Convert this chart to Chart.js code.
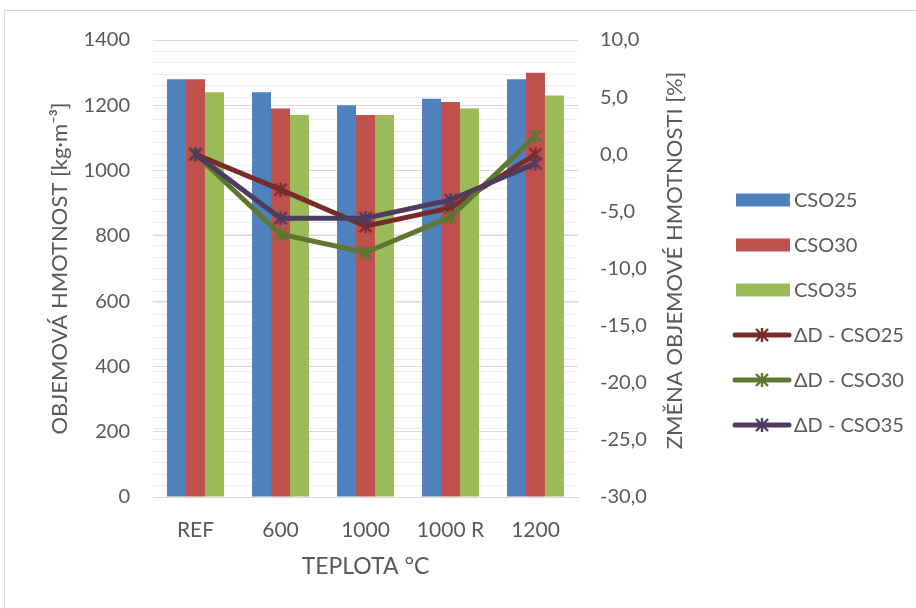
<!DOCTYPE html>
<html lang="cs">
<head>
<meta charset="utf-8">
<title>Objemová hmotnost</title>
<script src="https://cdn.jsdelivr.net/npm/chart.js@4.4.0/dist/chart.umd.min.js"></script>
<style>
  html, body { margin: 0; padding: 0; background: #fff; overflow: hidden; }
  #wrap { position: relative; width: 916px; height: 608px; }
  #frame { position: absolute; left: 4px; top: 10px; width: 1000px; height: 700px; border: 1px solid #d9d9d9; }
  #densityChart { position: absolute; left: 0; top: 0; }
</style>
</head>
<body>
<div id="wrap">
  <div id="frame"></div>
  <canvas id="densityChart" width="916" height="608"></canvas>
</div>
<script>
// categories (temperature) and bulk density per mix, kg/m3
const categories = ['REF', '600', '1000', '1000 R', '1200'];
const cso25 = [1280, 1240, 1200, 1220, 1280];
const cso30 = [1280, 1190, 1170, 1210, 1300];
const cso35 = [1240, 1170, 1170, 1190, 1230];

// change of bulk density against REF, %
const deltaCso25 = [0, -3.1, -6.3, -4.7, 0.0];
const deltaCso30 = [0, -7.0, -8.6, -5.5, 1.6];
const deltaCso35 = [0, -5.6, -5.6, -4.0, -0.8];

const leftTicks = { min: 0, max: 1400, step: 200 };
const rightTicks = { min: -30, max: 10, step: 5 };

const leftTitle = 'OBJEMOVÁ HMOTNOST [kg·m⁻³]';
const rightTitle = 'ZMĚNA OBJEMOVÉ HMOTNOSTI [%]';
const xTitle = 'TEPLOTA °C';

const fontFamily = 'Lato, "Open Sans", sans-serif';
const textColor = '#595959';

Chart.defaults.font.family = fontFamily;
Chart.defaults.color = textColor;

// excel-like star marker: an x with a vertical stroke
function starMarker(color) {
    const c = document.createElement('canvas');
    c.width = 16;
    c.height = 16;
    const g = c.getContext('2d');
    g.strokeStyle = color;
    g.lineWidth = 2.4;
    g.beginPath();
    g.moveTo(2, 2); g.lineTo(14, 14);
    g.moveTo(14, 2); g.lineTo(2, 14);
    g.moveTo(8, 1); g.lineTo(8, 15);
    g.stroke();
    return c;
}

function barSet(label, data, color) {
    return {
        type: 'bar', label, data,
        backgroundColor: color,
        yAxisID: 'y', order: 10,
        categoryPercentage: 0.67, barPercentage: 1.0
    };
}

function lineSet(label, data, color, order) {
    return {
        type: 'line', label, data,
        borderColor: color,
        backgroundColor: color,
        borderWidth: 5,
        tension: 0,
        pointStyle: starMarker(color),
        pointRadius: 7,
        pointHoverRadius: 7,
        yAxisID: 'y1', order
    };
}

// right axis title (reads bottom to top) and the legend column
const sideText = {
    id: 'sideText',
    afterDraw(chart) {
        const { ctx, chartArea } = chart;
        const right = chart.scales.y1;

        ctx.save();
        ctx.fillStyle = textColor;
        ctx.font = '22px ' + fontFamily;
        ctx.textAlign = 'center';
        ctx.textBaseline = 'middle';
        ctx.translate(right.left + 97, (chartArea.top + chartArea.bottom) / 2 - 8);
        ctx.rotate(-Math.PI / 2);
        ctx.fillText(rightTitle, 0, 0);
        ctx.restore();

        const x0 = right.right + 35;
        const y0 = 200;
        const step = 45;
        ctx.save();
        ctx.font = '20px ' + fontFamily;
        ctx.textBaseline = 'middle';
        ctx.textAlign = 'left';
        chart.data.datasets.forEach((ds, i) => {
            const y = y0 + i * step;
            if (ds.type === 'line') {
                ctx.strokeStyle = ds.borderColor;
                ctx.lineWidth = 5;
                ctx.lineCap = 'round';
                ctx.beginPath();
                ctx.moveTo(x0 + 2, y);
                ctx.lineTo(x0 + 56, y);
                ctx.stroke();
                ctx.drawImage(ds.pointStyle, x0 + 29 - 8, y - 8);
            } else {
                ctx.fillStyle = ds.backgroundColor;
                ctx.fillRect(x0 + 3, y - 6.5, 54, 13);
            }
            ctx.fillStyle = textColor;
            ctx.fillText(ds.label, x0 + 61, y + 1);
        });
        ctx.restore();
    }
};

new Chart(document.getElementById('densityChart'), {
    data: {
        labels: categories,
        datasets: [
            barSet('CSO25', cso25, '#4F81BD'),
            barSet('CSO30', cso30, '#C0504D'),
            barSet('CSO35', cso35, '#9BBB59'),
            lineSet('ΔD - CSO25', deltaCso25, '#772C2A', 3),
            lineSet('ΔD - CSO30', deltaCso30, '#5F7530', 2),
            lineSet('ΔD - CSO35', deltaCso35, '#4D3B62', 1)
        ]
    },
    options: {
        responsive: false,
        animation: false,
        layout: { padding: { left: 0, top: 40, right: 218, bottom: 0 } },
        plugins: {
            legend: { display: false },
            tooltip: { enabled: false }
        },
        scales: {
            x: {
                afterFit: s => { s.height = 111; },
                grid: { display: false },
                border: { display: true, color: '#d9d9d9', width: 1 },
                ticks: { padding: 13, font: { size: 21 } },
                title: {
                    display: true, text: xTitle,
                    font: { size: 23 },
                    padding: { top: 0, bottom: 28 }
                }
            },
            y: {
                position: 'left',
                min: leftTicks.min, max: leftTicks.max,
                afterFit: s => { s.width = 153; },
                border: { display: false },
                grid: { color: '#d9d9d9', drawTicks: false, z: -1 },
                ticks: {
                    stepSize: leftTicks.step,
                    padding: 23,
                    font: { size: 20 },
                    callback: v => String(v)
                },
                title: {
                    display: true, text: leftTitle,
                    font: { size: 22 },
                    padding: { top: 47, bottom: 0 }
                }
            },
            y1: {
                position: 'right',
                min: rightTicks.min, max: rightTicks.max,
                afterFit: s => { s.width = 120; },
                border: { display: false },
                grid: { color: '#ececec', drawTicks: false, z: -2 },
                ticks: {
                    stepSize: 1,
                    maxTicksLimit: 41,
                    autoSkip: false,
                    padding: 22,
                    font: { size: 20 },
                    callback: v => v % rightTicks.step === 0 ? v.toFixed(1).replace('.', ',') : ''
                }
            }
        }
    },
    plugins: [sideText]
});
</script>
</body>
</html>
